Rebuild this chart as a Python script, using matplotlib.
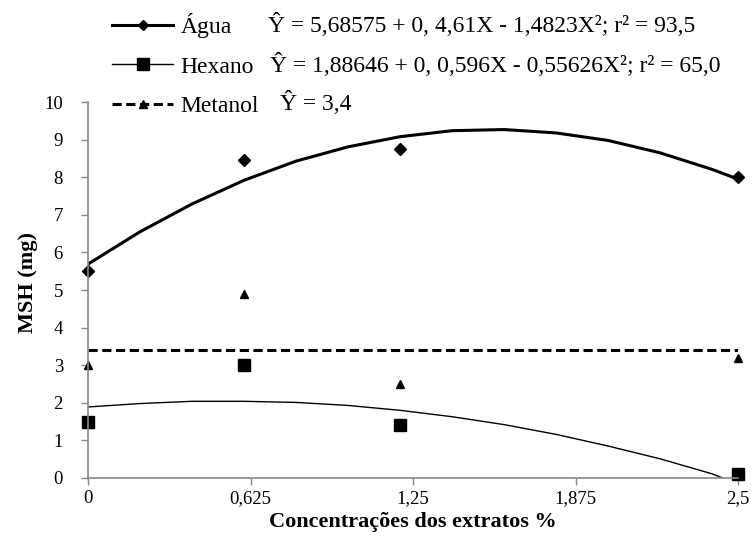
import matplotlib.pyplot as plt
from matplotlib.lines import Line2D

plt.rcParams['font.family'] = ['Liberation Serif', 'DejaVu Serif']

# observed points
conc = [0, 0.6, 1.2, 2.5]
agua = [5.5, 8.45, 8.75, 8.0]
hexano = [1.5, 3.0, 1.4, 0.1]
metanol = [3.0, 4.9, 2.5, 3.2]

# fitted curves
agua_x = [0, 0.2, 0.4, 0.6, 0.8, 1.0, 1.2, 1.4, 1.6, 1.8, 2.0, 2.2, 2.4, 2.5]
agua_fit = [5.69, 6.55, 7.29, 7.92, 8.43, 8.81, 9.08, 9.24, 9.27, 9.18,
            8.98, 8.65, 8.21, 7.95]
hex_x = [0, 0.2, 0.4, 0.6, 0.8, 1.0, 1.2, 1.4, 1.6, 1.8, 2.0, 2.2, 2.4, 2.44]
hexano_fit = [1.89, 1.98, 2.04, 2.04, 2.01, 1.93, 1.80, 1.63, 1.42, 1.16,
              0.85, 0.51, 0.11, 0.0]
metanol_x = [0, 2.5]
metanol_fit = [3.4, 3.4]

xticks = [0, 0.625, 1.25, 1.875, 2.5]
xticklabels = ['0', '0,625', '1,25', '1,875', '2,5']

fig = plt.figure(figsize=(7.54, 5.58), dpi=100)
ax = fig.add_axes([0.1167, 0.1434, 0.8623, 0.6736])

ax.plot(agua_x, agua_fit, color='black', lw=2.2)
ax.plot(hex_x, hexano_fit, color='black', lw=1.0)
ax.plot(metanol_x, metanol_fit, color='black', lw=2.2, ls=(0, (3, 1.5)))
ax.plot(conc, agua, ls='none', marker='D', ms=6, color='black', clip_on=False)
ax.plot(conc, hexano, ls='none', marker='s', ms=8, color='black', clip_on=False)
ax.plot(conc, metanol, ls='none', marker='^', ms=6, color='black', clip_on=False)

ax.set_xlim(0, 2.5)
ax.set_ylim(0, 10)
ax.set_xticks(xticks)
ax.set_xticklabels(xticklabels)
ax.set_yticks(range(0, 11))
ax.tick_params(labelsize=13.5, color='#888888', length=5, width=1)
ax.tick_params(axis='x', pad=4)
ax.tick_params(axis='y', pad=13)
for s in ['top', 'right']:
    ax.spines[s].set_visible(False)
for s in ['left', 'bottom']:
    ax.spines[s].set_color('#888888')
    ax.spines[s].set_linewidth(1.2)

ax.set_ylabel('MSH (mg)', fontsize=16, fontweight='bold')
ax.yaxis.set_label_coords(-0.077, 0.52)
ax.set_xlabel('Concentrações dos extratos %', fontsize=16, fontweight='bold', labelpad=3)

handles = [
    Line2D([], [], color='black', lw=2.2, marker='D', ms=5),
    Line2D([], [], color='black', lw=1.0, marker='s', ms=8),
    Line2D([], [], color='black', lw=2.2, ls=(0, (3, 1.5)), marker='^', ms=6),
]
fig.legend(handles, ['Água', 'Hexano', 'Metanol'], loc='upper left',
           bbox_to_anchor=(0.133, 0.997), frameon=False, fontsize=17,
           handlelength=2.6, labelspacing=0.75, handletextpad=0.3,
           borderaxespad=0.1)

eqs = ['Ŷ = 5,68575 + 0, 4,61X - 1,4823X²; r² = 93,5',
       'Ŷ = 1,88646 + 0, 0,596X - 0,55626X²; r² = 65,0',
       'Ŷ = 3,4']
eq_x = [268, 270, 280]
eq_y = [25, 65, 103]
for t, xx, yy in zip(eqs, eq_x, eq_y):
    fig.text(xx / 754, 1 - yy / 558, t, fontsize=17, va='center', ha='left')

fig.savefig('out.png', dpi=100)
